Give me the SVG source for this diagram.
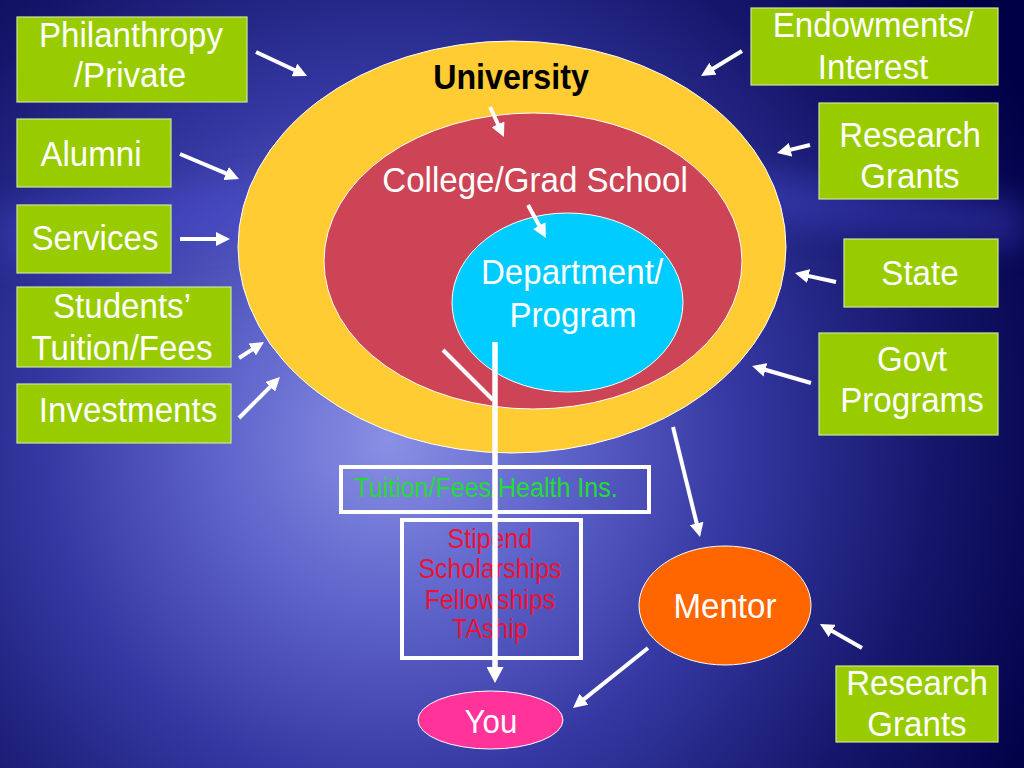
<svg xmlns="http://www.w3.org/2000/svg" width="1024" height="768" viewBox="0 0 1024 768">
<defs>
<radialGradient id="bg" gradientUnits="userSpaceOnUse" cx="390" cy="440" r="720">
<stop offset="0" stop-color="#8a90e4"/>
<stop offset="0.22" stop-color="#6167cc"/>
<stop offset="0.48" stop-color="#3538a2"/>
<stop offset="0.75" stop-color="#16176c"/>
<stop offset="1" stop-color="#000046"/>
</radialGradient>
<filter id="blur" x="-20%" y="-50%" width="140%" height="200%"><feGaussianBlur stdDeviation="14"/></filter>
<marker id="head" markerUnits="userSpaceOnUse" markerWidth="14" markerHeight="14" viewBox="0 0 14 14" refX="3" refY="7" orient="auto">
<path d="M0,0 L14,7 L0,14 z" fill="#ffffff"/>
</marker>
<marker id="headL" markerUnits="userSpaceOnUse" markerWidth="16" markerHeight="17" viewBox="0 0 16 17" refX="4" refY="8.5" orient="auto">
<path d="M0,0 L16,8.5 L0,17 z" fill="#ffffff"/>
</marker>
<style>
.box{fill:#99cc00;stroke:#cfe39a;stroke-width:1.2}
.t{font-family:"Liberation Sans",Arial,sans-serif;font-size:36px;fill:#ffffff;text-anchor:middle;transform-box:fill-box;transform-origin:center;transform:scaleX(0.92)}
.s{font-family:"Liberation Sans",Arial,sans-serif;font-size:27.5px;text-anchor:middle;transform-box:fill-box;transform-origin:center;transform:scaleX(0.91)}
.arr{stroke:#ffffff;stroke-width:4;fill:none;marker-end:url(#head)}
.ln{stroke:#ffffff;stroke-width:4;fill:none}
.frame{fill:none;stroke:#ffffff;stroke-width:4}
</style>
</defs>
<rect width="1024" height="768" fill="url(#bg)"/>
<path d="M0,205 C150,200 300,170 520,160 C700,152 860,190 1024,200 L1024,250 C860,235 700,210 520,215 C300,222 150,255 0,262 z" fill="#4a4cd8" opacity="0.35" filter="url(#blur)"/>

<g id="university">
<ellipse cx="512" cy="247" rx="274" ry="206" fill="#ffcc33" stroke="#ffffff" stroke-width="1"/>
<text class="t" x="511" y="89" style="fill:#000000;font-weight:bold;font-size:35px">University</text>
</g>
<g id="college">
<ellipse cx="533" cy="261" rx="209" ry="148" fill="#cc4455" stroke="#ffffff" stroke-width="1"/>
<text class="t" x="535" y="192">College/Grad School</text>
</g>
<g id="department">
<ellipse cx="567.5" cy="302.5" rx="115.5" ry="89.5" fill="#00ccff" stroke="#ffffff" stroke-width="1"/>
<text class="t" x="572" y="284">Department/</text>
<text class="t" x="573" y="327">Program</text>
</g>

<g id="philanthropy">
<rect class="box" x="17" y="17" width="230" height="85"/>
<text class="t" x="131" y="47">Philanthropy</text>
<text class="t" x="130" y="87">/Private</text>
</g>
<g id="alumni">
<rect class="box" x="17" y="119" width="154" height="68"/>
<text class="t" x="91" y="166">Alumni</text>
</g>
<g id="services">
<rect class="box" x="17" y="205" width="154" height="68"/>
<text class="t" x="95" y="250">Services</text>
</g>
<g id="students">
<rect class="box" x="17" y="287" width="214" height="80"/>
<text class="t" x="122" y="318">Students’</text>
<text class="t" x="122" y="360">Tuition/Fees</text>
</g>
<g id="investments">
<rect class="box" x="17" y="384" width="214" height="59"/>
<text class="t" x="128" y="422">Investments</text>
</g>
<g id="endowments">
<rect class="box" x="751" y="8" width="247" height="77"/>
<text class="t" x="873" y="37">Endowments/</text>
<text class="t" x="873" y="79">Interest</text>
</g>
<g id="research-top">
<rect class="box" x="819" y="103" width="179" height="96"/>
<text class="t" x="910" y="147">Research</text>
<text class="t" x="910" y="188">Grants</text>
</g>
<g id="state">
<rect class="box" x="844" y="239" width="154" height="68"/>
<text class="t" x="920" y="285">State</text>
</g>
<g id="govt">
<rect class="box" x="819" y="333" width="179" height="102"/>
<text class="t" x="912" y="371">Govt</text>
<text class="t" x="912" y="412">Programs</text>
</g>
<g id="research-bottom">
<rect class="box" x="836" y="666" width="162" height="76"/>
<text class="t" x="917" y="695">Research</text>
<text class="t" x="917" y="736">Grants</text>
</g>

<g id="tuition">
<rect class="frame" x="341" y="467" width="308" height="45"/>
<text class="s" x="486" y="497" style="fill:#22dd33">Tuition/Fees/Health Ins.</text>
</g>
<g id="stipend">
<rect class="frame" x="402" y="520" width="179" height="138"/>
<text class="s" x="490" y="548" style="fill:#ee1133">Stipend</text>
<text class="s" x="490" y="578" style="fill:#ee1133">Scholarships</text>
<text class="s" x="490" y="609" style="fill:#ee1133">Fellowships</text>
<text class="s" x="490" y="638" style="fill:#ee1133">TAship</text>
</g>
<g id="mentor">
<ellipse cx="725" cy="605.5" rx="86" ry="59.5" fill="#ff6600" stroke="#ffffff" stroke-width="1"/>
<text class="t" x="725" y="618">Mentor</text>
</g>
<g id="you">
<ellipse cx="490.5" cy="720" rx="72.5" ry="29" fill="#ff3399" stroke="#ffffff" stroke-width="1"/>
<text class="t" x="491" y="733" style="font-size:34px">You</text>
</g>

<g id="connectors">
<line class="arr" x1="256" y1="52" x2="297.1" y2="71.3"/>
<line class="arr" x1="180" y1="154" x2="228.9" y2="174.7"/>
<line class="arr" x1="180" y1="239" x2="219" y2="239"/>
<line class="arr" x1="239" y1="358" x2="254.7" y2="347.9"/>
<line class="arr" x1="239" y1="418" x2="272.2" y2="384.8"/>
<line class="arr" x1="742" y1="51" x2="710.4" y2="70.3"/>
<line class="arr" x1="810" y1="145" x2="787.7" y2="150.4"/>
<line class="arr" x1="836" y1="282" x2="805.7" y2="275.4"/>
<line class="arr" x1="811" y1="383" x2="762.6" y2="369"/>
<line class="arr" x1="490" y1="107" x2="499.3" y2="127"/>
<line class="arr" x1="528" y1="205" x2="540.7" y2="228.3"/>
<line class="arr" x1="673" y1="427" x2="697.4" y2="526.3"/>
<line class="arr" x1="862" y1="648" x2="829.5" y2="629.5"/>
<line class="arr" x1="648" y1="648" x2="581.6" y2="701.1"/>
<line class="ln" x1="443" y1="350" x2="493" y2="400"/>
<line x1="495" y1="342" x2="495" y2="671" stroke="#ffffff" stroke-width="5.5" marker-end="url(#headL)"/>
</g>
</svg>
